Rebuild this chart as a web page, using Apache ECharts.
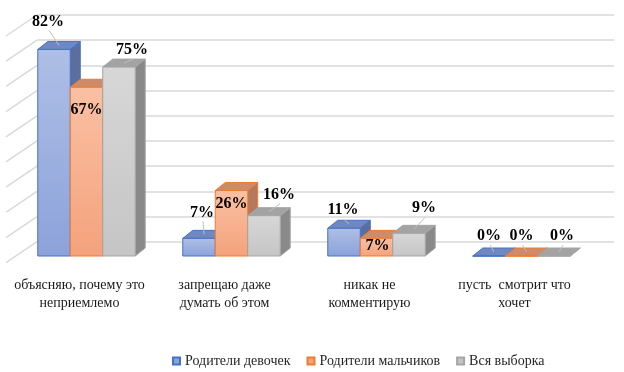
<!DOCTYPE html>
<html>
<head>
<meta charset="utf-8">
<script src="https://cdn.jsdelivr.net/npm/echarts@6/dist/echarts.min.js"></script>
<style>
html, body { margin: 0; padding: 0; background: #fff; }
#chart { width: 624px; height: 372px; }
</style>
</head>
<body>
<div id="chart"></div>
<script>
// данные
var categories = ['объясняю, почему это\nнеприемлемо', 'запрещаю даже\nдумать об этом', 'никак не\nкомментирую', 'пусть  смотрит что\nхочет'];
var seriesNames = ['Родители девочек', 'Родители мальчиков', 'Вся выборка'];
var girls = [82, 7, 11, 0];
var boys = [67, 26, 7, 0];
var total = [75, 16, 9, 0];
var wallTicks = [0, 10, 20, 30, 40, 50, 60, 70, 80, 90];

// оформление
var palette = [
    { top: '#7087C2', side: '#5C6E9C', line: '#4472C4', light: '#AEBFE6', dark: '#8CA2DA' },
    { top: '#CE8A69', side: '#B4785C', line: '#ED7D31', light: '#FAC0A3', dark: '#F4A27C' },
    { top: '#A3A3A3', side: '#898989', line: '#A5A5A5', light: '#D7D7D7', dark: '#C5C5C5' }
];
// сдвиг подписей относительно верха передней грани
var labelShift = [
    [[-6, -28], [3, -26], [-1, -18], [0, -20]],
    [[0, 23], [0, 13], [1, 7], [0, -20]],
    [[13, -17], [15, -21], [15, -25], [8, -20]]
];
var depthX = 10, depthY = 8;

function makeBar(si) {
    return function (params, api) {
        var cat = api.value(0);
        var val = api.value(1);
        var base = api.coord([cat, 0]);
        var top = api.coord([cat, val]);
        var w = api.size([1, 0])[0] * 0.224;
        var x0 = base[0] + (si - 1.5) * w;
        var x1 = x0 + w;
        var ty = top[1], by = base[1];
        var c = palette[si];
        var children = [
            {
                type: 'polygon',
                shape: { points: [[x1, ty], [x1 + depthX, ty - depthY], [x1 + depthX, by - depthY], [x1, by]] },
                style: { fill: c.side, stroke: c.line, lineWidth: 1 }
            },
            {
                type: 'polygon',
                shape: { points: [[x0, ty], [x1, ty], [x1 + depthX, ty - depthY], [x0 + depthX, ty - depthY]] },
                style: { fill: c.top, stroke: c.line, lineWidth: 1 }
            },
            {
                type: 'rect',
                shape: { x: x0, y: ty, width: w, height: by - ty },
                style: {
                    fill: new echarts.graphic.LinearGradient(0, 0, 0, 1, [
                        { offset: 0, color: c.light },
                        { offset: 1, color: c.dark }
                    ]),
                    stroke: c.line,
                    lineWidth: 1
                }
            }
        ];
        var sh = labelShift[si][params.dataIndex];
        var lx = (x0 + x1) / 2 + sh[0];
        var ly = ty + sh[1];
        if (sh[1] < 0) {
            // выноска
            children.push({
                type: 'line',
                z2: 50,
                shape: { x1: lx + 1, y1: ly + 9, x2: (x0 + x1) / 2 + depthX / 2, y2: ty - depthY / 2 },
                style: { stroke: '#BFBFBF', lineWidth: 1 }
            });
        }
        children.push({
            type: 'text',
            z2: 100,
            style: {
                text: val + '%',
                x: lx,
                y: ly,
                align: 'center',
                verticalAlign: 'middle',
                font: 'bold 16px "Liberation Serif", serif',
                fill: '#000'
            }
        });
        return { type: 'group', children: children };
    };
}

function renderWall(params, api) {
    var y = api.coord([0, api.value(1)])[1];
    var x = params.coordSys.x;
    return {
        type: 'line',
        shape: { x1: x, y1: y, x2: x - 31, y2: y + 21 },
        style: { stroke: '#D9D9D9', lineWidth: 1.5 }
    };
}

var myChart = echarts.init(document.getElementById('chart'));

var seriesData = [girls, boys, total];
var series = [{
    type: 'custom',
    silent: true,
    xAxisIndex: 0,
    yAxisIndex: 0,
    renderItem: renderWall,
    data: wallTicks.map(function (v) { return [0, v]; })
}];
for (var i = 0; i < 3; i++) {
    series.push({
        name: seriesNames[i],
        type: 'custom',
        xAxisIndex: 1,
        yAxisIndex: 1,
        renderItem: makeBar(i),
        itemStyle: { color: palette[i].dark, borderColor: palette[i].line, borderWidth: 1 },
        encode: { x: 0, y: 1 },
        data: seriesData[i].map(function (v, k) { return [k, v]; })
    });
}

var option = {
    animation: false,
    legend: {
        data: seriesNames,
        left: 167,
        top: 349,
        icon: 'rect',
        itemWidth: 7,
        itemHeight: 7,
        itemGap: 16,
        textStyle: { fontFamily: '"Liberation Serif", serif', fontSize: 14, color: '#262626' }
    },
    grid: [
        { left: 37, top: 15, width: 577, height: 226.7 },
        { left: 14, top: 29.3, width: 580, height: 226.7 }
    ],
    xAxis: [
        { type: 'category', gridIndex: 0, data: categories, show: false },
        {
            type: 'category', gridIndex: 1, data: categories,
            axisLine: { show: false }, axisTick: { show: false },
            axisLabel: {
                margin: 20, interval: 0, lineHeight: 18, padding: [0, 14, 0, 0],
                fontFamily: '"Liberation Serif", serif', fontSize: 14, color: '#1a1a1a'
            }
        }
    ],
    yAxis: [
        {
            type: 'value', gridIndex: 0, min: 0, max: 90, interval: 10,
            axisLine: { show: false }, axisTick: { show: false }, axisLabel: { show: false },
            splitLine: { lineStyle: { color: '#D9D9D9', width: 1.5 } }
        },
        { type: 'value', gridIndex: 1, min: 0, max: 90, interval: 10, show: false }
    ],
    series: series
};
myChart.setOption(option);
</script>
</body>
</html>
